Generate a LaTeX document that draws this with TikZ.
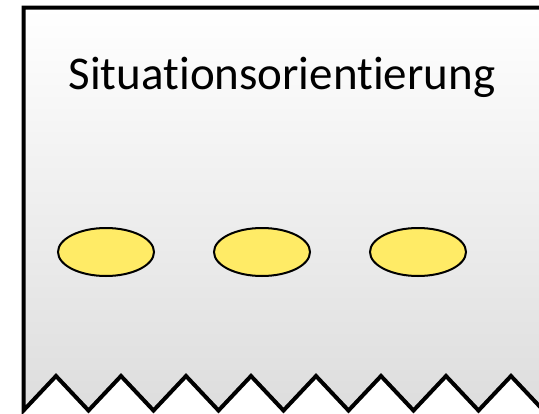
\documentclass[tikz,border=0pt]{standalone}
\usepackage{fontspec}
\setmainfont[Ligatures=NoCommon]{Carlito}
\usetikzlibrary{shapes.geometric}
\definecolor{bggray}{RGB}{221,221,221}
\definecolor{dotyellow}{RGB}{255,235,102}
\begin{document}
\begin{tikzpicture}[x=1pt,y=-1pt,
  dot/.style={ellipse,draw=black,line width=2pt,fill=dotyellow,minimum width=96pt,minimum height=48pt,inner sep=0pt}]
\useasboundingbox (0,0) rectangle (539,413);
\begin{scope}
\clip (0,0) rectangle (539,413);
\draw[line width=4pt,line join=miter,top color=white,bottom color=bggray]
  (23.5,410.5) -- (23.5,7.5) -- (560,7.5) -- (560,376)
  -- (543.5,410.5) -- (511,376) -- (478.5,410.5) -- (446,376) -- (413.5,410.5)
  -- (381,376) -- (348.5,410.5) -- (316,376) -- (283.5,410.5) -- (251,376)
  -- (218.5,410.5) -- (186,376) -- (153.5,410.5) -- (121,376) -- (88.5,410.5)
  -- (56,376) -- cycle;
\end{scope}
\node (title) at (282,77) {\fontsize{47}{56}\selectfont Situationsorientierung};
\node[dot] (d1) at (106,252) {};
\node[dot] (d2) at (262,252) {};
\node[dot] (d3) at (418,252) {};
\end{tikzpicture}
\end{document}
